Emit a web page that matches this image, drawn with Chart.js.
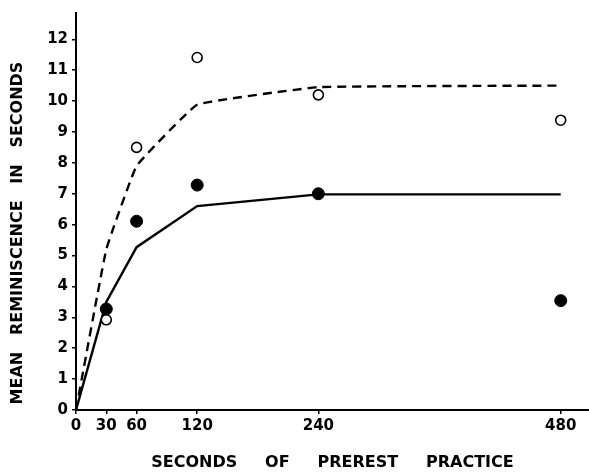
<!DOCTYPE html>
<html><head><meta charset="utf-8">
<script src="https://cdn.jsdelivr.net/npm/chart.js@4.4.1/dist/chart.umd.min.js"></script>
<style>html,body{margin:0;padding:0;background:#fff;} canvas{display:block;}</style>
</head><body>
<canvas id="c" width="589" height="473"></canvas>
<script>
const xTicks = [0, 30, 60, 120, 240, 480];
const yTicks = [0, 1, 2, 3, 4, 5, 6, 7, 8, 9, 10, 11, 12];
const practiceSeconds = [30, 60, 120, 240, 480];
const filledObserved = [3.27, 6.11, 7.28, 7.0, 3.54];
const openObserved = [2.92, 8.5, 11.41, 10.2, 9.38];
const curveSeconds = [0, 30, 60, 120, 240, 480];
const solidCurve = [0, 3.5, 5.27, 6.6, 6.98, 6.98];
const dashedCurve = [0, 5.2, 7.9, 9.88, 10.45, 10.5];
const xTitle = 'SECONDS     OF     PREREST     PRACTICE';
const yTitle = ' MEAN   REMINISCENCE   IN   SECONDS';

const pts = (xs, ys) => xs.map((x, i) => ({x: x, y: ys[i]}));
const FONT = "'DejaVu Sans', sans-serif";

new Chart(document.getElementById('c'), {
  type: 'scatter',
  data: {
    datasets: [
      { label: 'filled', data: pts(practiceSeconds, filledObserved), showLine: false,
        pointRadius: 6, pointBackgroundColor: '#000', pointBorderColor: '#000', pointBorderWidth: 1 },
      { label: 'open', data: pts(practiceSeconds, openObserved), showLine: false,
        pointRadius: 5, pointBackgroundColor: '#fff', pointBorderColor: '#000', pointBorderWidth: 1.6 },
      { label: 'solid', data: pts(curveSeconds, solidCurve), showLine: true, pointRadius: 0,
        borderColor: '#000', borderWidth: 2.4, tension: 0 },
      { label: 'dashed', data: pts(curveSeconds, dashedCurve), showLine: true, pointRadius: 0,
        borderColor: '#000', borderWidth: 2.4, borderDash: [9, 6], tension: 0.08 }
    ]
  },
  options: {
    responsive: false,
    animation: false,
    devicePixelRatio: 1,
    layout: { autoPadding: false, padding: { top: 10, right: 0, bottom: 0, left: 0 } },
    plugins: { legend: { display: false }, tooltip: { enabled: false } },
    scales: {
      x: {
        type: 'linear', min: 0, max: 508,
        afterBuildTicks: s => { s.ticks = xTicks.map(v => ({value: v})); },
        afterFit: s => { s.height = 63; s.paddingRight = 0; s.paddingLeft = 0; },
        border: { color: '#000', width: 2 },
        grid: { drawOnChartArea: false, drawTicks: true, tickLength: 4, color: '#000', lineWidth: 1.5 },
        ticks: { color: '#000', padding: 3, maxRotation: 0, autoSkip: false,
          font: { family: FONT, weight: 'bold', size: 15 } },
        title: { display: true, text: xTitle, color: '#000',
          font: { family: FONT, weight: 'bold', size: 16 }, padding: { top: 0, bottom: 1 } }
      },
      y: {
        type: 'linear', min: 0, max: 12.85,
        afterBuildTicks: s => { s.ticks = yTicks.map(v => ({value: v})); },
        afterFit: s => { s.width = 76; },
        border: { color: '#000', width: 2 },
        grid: { drawOnChartArea: false, drawTicks: true, tickLength: 4, color: '#000', lineWidth: 1.5 },
        ticks: { color: '#000', padding: 4, autoSkip: false,
          font: { family: FONT, weight: 'bold', size: 15 } },
        title: { display: true, text: yTitle, color: '#000', align: 'start',
          font: { family: FONT, weight: 'bold', size: 16 }, padding: { top: 8, bottom: 0 } }
      }
    }
  }
});
</script>
</body></html>
